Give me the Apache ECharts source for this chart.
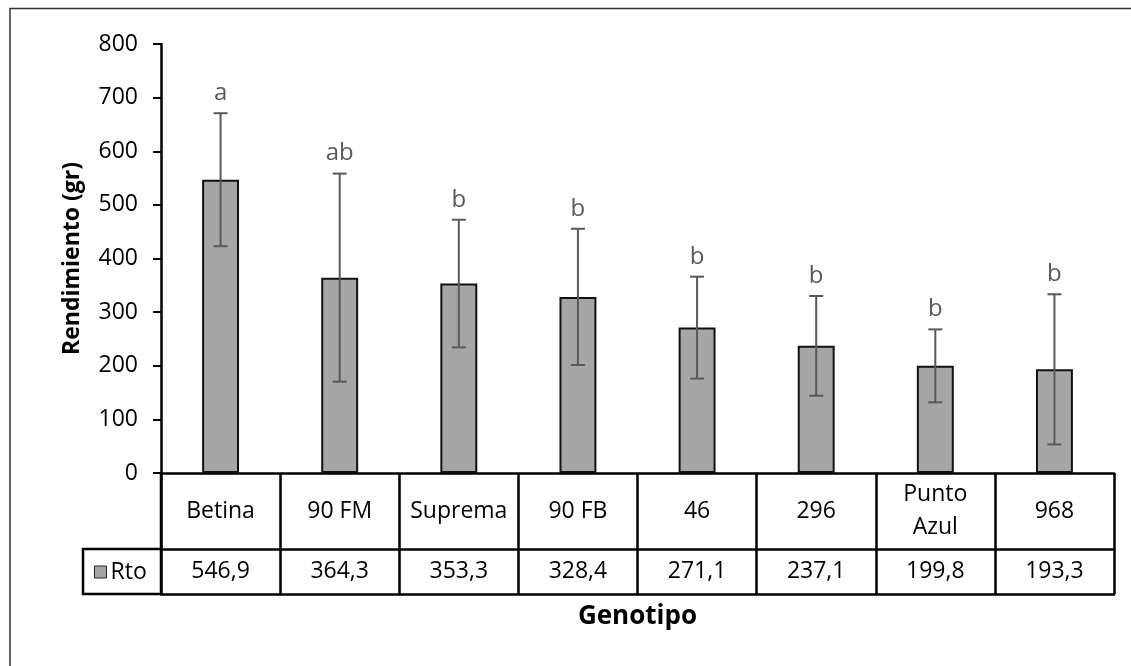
<!DOCTYPE html>
<html>
<head>
<meta charset="utf-8">
<script src="https://cdn.jsdelivr.net/npm/echarts@6/dist/echarts.min.js"></script>
<style>
html,body{margin:0;padding:0;background:#fff;}
#main{width:1131px;height:666px;}
</style>
</head>
<body>
<div id="main"></div>
<script>
// ---- data ----
var categories = ['Betina', '90 FM', 'Suprema', '90 FB', '46', '296', 'Punto\nAzul', '968'];
var values = [546.9, 364.3, 353.3, 328.4, 271.1, 237.1, 199.8, 193.3];
var errors = [124, 194, 119, 127, 95, 93, 68, 140];
var letters = ['a', 'ab', 'b', 'b', 'b', 'b', 'b', 'b'];
var seriesName = 'Rto';
var yTicks = [0, 100, 200, 300, 400, 500, 600, 700, 800];

// ---- layout ----
var FONT = '"Open Sans", "Noto Sans", sans-serif';
var W = 1131, H = 666;
var gLeft = 161, gRight = 17, gTop = 44, gBottom = 193;
var row1 = 76, row2 = 45;
var axisY = H - gBottom;
var legendCellLeft = 83;

var chart = echarts.init(document.getElementById('main'), null, {renderer: 'canvas'});

var errData = values.map(function (v, i) { return [i, v - errors[i], v + errors[i], letters[i]]; });

var option = {
  animation: false,
  backgroundColor: '#fff',
  textStyle: {fontFamily: FONT},
  grid: {left: gLeft, right: gRight, top: gTop, bottom: gBottom, containLabel: false},
  legend: {
    show: true,
    left: 89, top: axisY + row1 + row2 / 2 - 16,
    itemWidth: 12, itemHeight: 12, itemGap: 4,
    icon: 'rect',
    textStyle: {fontFamily: FONT, fontSize: 23, color: '#000', padding: [0, 0, 0, -1]},
    data: [{name: seriesName, itemStyle: {color: '#a6a6a6', borderColor: '#222', borderWidth: 1}}]
  },
  xAxis: [
    {
      type: 'category', data: categories, position: 'bottom',
      axisLine: {show: true, onZero: false, lineStyle: {color: '#000', width: 2.5}},
      axisTick: {show: true, length: row1 + row2, lineStyle: {color: '#000', width: 2.5}},
      axisLabel: {fontFamily: FONT, fontSize: 23, color: '#000', margin: row1 / 2, verticalAlign: 'middle', lineHeight: 33, interval: 0}
    },
    {
      type: 'category', data: values.map(function (v) { return v.toFixed(1).replace('.', ','); }),
      position: 'bottom', offset: row1,
      axisLine: {show: true, onZero: false, lineStyle: {color: '#000', width: 2.5}},
      axisTick: {show: false},
      axisLabel: {fontFamily: FONT, fontSize: 23, color: '#000', margin: row2 / 2, verticalAlign: 'middle', interval: 0}
    },
    {
      type: 'category', data: categories, position: 'bottom', offset: row1 + row2,
      axisLine: {show: true, onZero: false, lineStyle: {color: '#000', width: 2.5}},
      axisTick: {show: false}, axisLabel: {show: false},
      name: 'Genotipo', nameLocation: 'middle', nameGap: 10,
      nameTextStyle: {fontFamily: FONT, fontSize: 26, fontWeight: 'bold', color: '#000', verticalAlign: 'top'}
    }
  ],
  yAxis: {
    type: 'value', min: 0, max: 800, interval: 100,
    axisLine: {show: true, lineStyle: {color: '#000', width: 2.5}},
    axisTick: {show: true, length: 8, lineStyle: {color: '#000', width: 2}},
    splitLine: {show: false},
    axisLabel: {fontFamily: FONT, fontSize: 23, color: '#000', margin: 23},
    name: 'Rendimiento (gr)', nameLocation: 'middle', nameGap: 77, nameRotate: 90,
    nameTextStyle: {fontFamily: FONT, fontSize: 23, fontWeight: 'bold', color: '#000'}
  },
  series: [
    {
      name: seriesName, type: 'bar', data: values, barWidth: '31%',
      itemStyle: {color: '#a6a6a6', borderColor: '#111', borderWidth: 2},
      xAxisIndex: 0
    },
    {
      name: 'err', type: 'custom', data: errData, xAxisIndex: 0, z: 5,
      renderItem: function (params, api) {
        var x = api.value(0);
        var lo = api.coord([x, api.value(1)]);
        var hi = api.coord([x, api.value(2)]);
        var cap = 7;
        var st = {stroke: '#595959', lineWidth: 2};
        return {
          type: 'group',
          children: [
            {type: 'line', shape: {x1: lo[0], y1: lo[1], x2: hi[0], y2: hi[1]}, style: st},
            {type: 'line', shape: {x1: lo[0] - cap, y1: lo[1], x2: lo[0] + cap, y2: lo[1]}, style: st},
            {type: 'line', shape: {x1: hi[0] - cap, y1: hi[1], x2: hi[0] + cap, y2: hi[1]}, style: st},
            {type: 'text', x: hi[0], y: hi[1] - 20, style: {text: api.value(3), fontFamily: FONT, fontSize: 24, fill: '#595959', align: 'center', verticalAlign: 'middle'}}
          ]
        };
      }
    }
  ],
  graphic: [
    // outer chart border
    {type: 'rect', shape: {x: 10, y: 8.5, width: 1300, height: 800}, style: {fill: null, stroke: '#333', lineWidth: 1.5}, silent: true},
    // y-axis line continuing through the table
    {type: 'line', shape: {x1: gLeft, y1: axisY, x2: gLeft, y2: axisY + row1 + row2}, style: {stroke: '#000', lineWidth: 2.5}},
    // legend cell
    {type: 'polyline', shape: {points: [[gLeft, axisY + row1], [legendCellLeft, axisY + row1], [legendCellLeft, axisY + row1 + row2], [gLeft, axisY + row1 + row2]]}, style: {fill: null, stroke: '#000', lineWidth: 2.5}}
  ]
};
chart.setOption(option);
</script>
</body>
</html>
